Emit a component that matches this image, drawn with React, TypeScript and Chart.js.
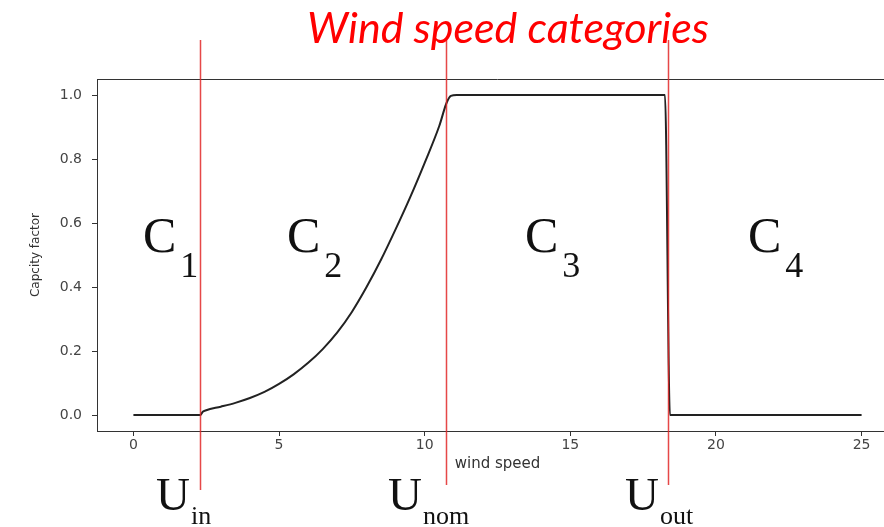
import React, { useEffect, useRef } from "react";
import { Chart, registerables } from "chart.js";

Chart.register(...registerables);

// ---- data ----
const windSpeed = [0, 2.3, 2.38, 2.5, 3.0, 3.5, 4.0, 4.5, 5.0, 5.5, 6.0, 6.5, 7.0, 7.5, 8.0, 8.5, 9.0, 9.5, 10.0, 10.5, 10.75, 10.9, 11.1, 18.25, 18.42, 25];
const capacityFactor = [0, 0, 0.01, 0.015, 0.026, 0.038, 0.053, 0.072, 0.097, 0.127, 0.163, 0.206, 0.258, 0.322, 0.399, 0.485, 0.58, 0.68, 0.788, 0.903, 0.975, 0.997, 1.0, 1.0, 0.0, 0.0];
const xTicks = [0, 5, 10, 15, 20, 25];
const yTicks = [0, 0.2, 0.4, 0.6, 0.8, 1.0];
const thresholdSpeeds = [2.3, 10.72, 18.35]; // U_in, U_nom, U_out
const thresholdNames = ["in", "nom", "out"];
const categoryNames = ["1", "2", "3", "4"];
const titleText = "Wind speed categories";
const xTitle = "wind speed";
const yTitle = "Capcity factor";

const SERIF = '"Liberation Serif", "Times New Roman", serif';

function drawSub(
  ctx: CanvasRenderingContext2D,
  main: string,
  sub: string,
  x: number,
  baseline: number,
  mainSize: number,
  subSize: number,
  subGap: number,
  subBaseline: number
) {
  ctx.font = `${mainSize}px ${SERIF}`;
  ctx.textAlign = "left";
  ctx.textBaseline = "alphabetic";
  ctx.fillText(main, x, baseline);
  const w = ctx.measureText(main).width;
  ctx.font = `${subSize}px ${SERIF}`;
  ctx.fillText(sub, x + w + subGap, subBaseline);
}

const overlayPlugin = {
  id: "overlay",
  afterDatasetsDraw(chart: any) {
    const { ctx, chartArea, scales } = chart;
    const xs = scales.x;
    ctx.save();
    // top and right spines
    ctx.strokeStyle = "#333";
    ctx.lineWidth = 1;
    ctx.beginPath();
    ctx.moveTo(chartArea.left, chartArea.top + 0.5);
    ctx.lineTo(chartArea.right, chartArea.top + 0.5);
    ctx.stroke();
    ctx.beginPath();
    ctx.moveTo(chartArea.right - 0.5, chartArea.top);
    ctx.lineTo(chartArea.right - 0.5, chartArea.bottom);
    ctx.stroke();

    // red threshold lines
    const bottoms = [490, 485, 485];
    ctx.strokeStyle = "rgba(226, 40, 40, 0.85)";
    ctx.lineWidth = 1.5;
    thresholdSpeeds.forEach((u, i) => {
      const px = Math.round(xs.getPixelForValue(u)) + 0.5;
      ctx.beginPath();
      ctx.moveTo(px, 40);
      ctx.lineTo(px, bottoms[i]);
      ctx.stroke();
    });
    ctx.restore();
  },
  afterDraw(chart: any) {
    const { ctx } = chart;
    ctx.save();
    // title
    ctx.fillStyle = "#ff0000";
    ctx.font = 'italic 43px Lato, "Open Sans", sans-serif';
    ctx.textAlign = "center";
    ctx.textBaseline = "alphabetic";
    ctx.fillText(titleText, 508, 43);

    // category labels
    ctx.fillStyle = "#111";
    const cX = [143, 287, 525, 748];
    categoryNames.forEach((n, i) => {
      drawSub(ctx, "C", n, cX[i], 252, 50, 36, 4, 277);
    });

    // threshold labels
    const uX = [156, 388, 625];
    thresholdNames.forEach((n, i) => {
      drawSub(ctx, "U", n, uX[i], 510, 47, 26, 1, 524);
    });
    ctx.restore();
  },
};

export default function App() {
  const canvasRef = useRef<HTMLCanvasElement | null>(null);

  useEffect(() => {
    if (!canvasRef.current) return;
    const points = windSpeed.map((x, i) => ({ x, y: capacityFactor[i] }));
    const tickFont = { family: '"DejaVu Sans", sans-serif', size: 14 };
    const chart = new Chart(canvasRef.current, {
      type: "line",
      data: {
        datasets: [
          {
            data: points,
            borderColor: "#222",
            borderWidth: 2,
            pointRadius: 0,
            cubicInterpolationMode: "monotone",
            fill: false,
          },
        ],
      },
      options: {
        animation: false,
        responsive: false,
        maintainAspectRatio: false,
        layout: { padding: { left: 0, top: 79, right: 22, bottom: 0 } },
        plugins: { legend: { display: false }, tooltip: { enabled: false }, title: { display: false } },
        scales: {
          x: {
            type: "linear",
            min: -1.25,
            max: 26.25,
            afterBuildTicks: (s: any) => {
              s.ticks = xTicks.map((v) => ({ value: v }));
            },
            afterFit: (s: any) => {
              s.height = 96;
            },
            ticks: {
              color: "#444",
              font: tickFont,
              padding: 1,
              maxRotation: 0,
              autoSkip: false,
              callback: (v: any) => String(v),
            },
            grid: { drawOnChartArea: false, drawTicks: true, tickLength: 5, color: "#333", tickWidth: 1 },
            border: { display: true, color: "#333", width: 1 },
            title: {
              display: true,
              text: xTitle,
              color: "#333",
              font: { family: '"DejaVu Sans", sans-serif', size: 15 },
              padding: { top: 0, bottom: 54 },
            },
          },
          y: {
            type: "linear",
            min: -0.05,
            max: 1.05,
            afterBuildTicks: (s: any) => {
              s.ticks = yTicks.map((v) => ({ value: v }));
            },
            afterFit: (s: any) => {
              s.width = 97;
            },
            ticks: {
              color: "#444",
              font: tickFont,
              padding: 10,
              autoSkip: false,
              callback: (v: any) => Number(v).toFixed(1),
            },
            grid: { drawOnChartArea: false, drawTicks: true, tickLength: 5, color: "#333", tickWidth: 1 },
            border: { display: true, color: "#333", width: 1 },
            title: {
              display: true,
              text: yTitle,
              color: "#333",
              font: { family: '"DejaVu Sans", sans-serif', size: 12 },
              padding: { top: 29, bottom: 0 },
            },
          },
        },
      },
      plugins: [overlayPlugin],
    });
    return () => chart.destroy();
  }, []);

  return (
    <div
      style={{
        position: "fixed",
        left: 0,
        top: 0,
        width: 884,
        height: 527,
        overflow: "hidden",
        background: "#fff",
      }}
    >
      <canvas ref={canvasRef} width={920} height={527} style={{ display: "block" }} />
    </div>
  );
}
